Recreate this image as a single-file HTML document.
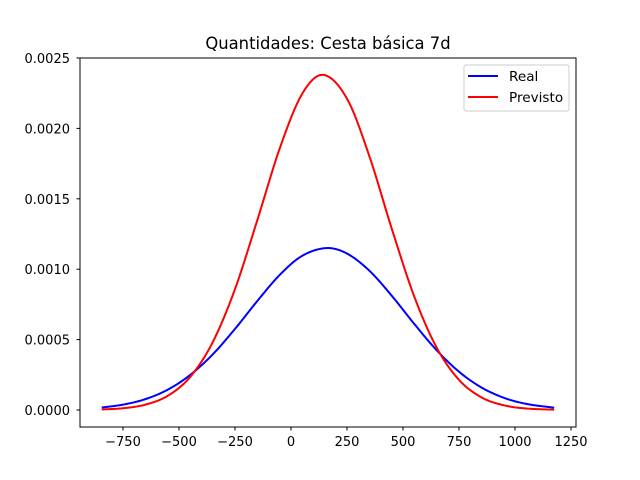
<!DOCTYPE html>
<html><head><meta charset="utf-8"><style>
body{margin:0;background:#fff}
svg{display:block;font-family:"DejaVu Sans","Liberation Sans",sans-serif}
</style></head><body>
<svg id="chart" width="640" height="480">
<text x="328" y="49" text-anchor="middle" font-size="16.4">Quantidades: Cesta básica 7d</text>
<g id="xt"></g><g id="yt"></g><g id="lines"></g>
<rect x="80" y="58" width="496" height="369" fill="none" stroke="#000" stroke-width="1"/>
<g>
<rect x="464" y="65" width="105" height="46" rx="2" fill="#fff" fill-opacity="0.8" stroke="#ccc" stroke-width="1"/>
<line x1="468" y1="76" x2="498" y2="76" stroke="#0000ff" stroke-width="2"/>
<text x="509" y="81" font-size="13.6">Real</text>
<line x1="468" y1="97" x2="498" y2="97" stroke="#ff0000" stroke-width="2"/>
<text x="509" y="102" font-size="13.6">Previsto</text>
</g>
</svg>
<script>
const xTicks=[-750,-500,-250,0,250,500,750,1000,1250];
const yTicks=[0,0.0005,0.001,0.0015,0.002,0.0025];
const yTickLabels=["0.0000","0.0005","0.0010","0.0015","0.0020","0.0025"];
const realX=[-845,-750,-650,-550,-450,-350,-250,-150,-50,50,159,250,350,450,550,650,750,850,950,1050,1175];
const realY=[0.0000179,0.000038,0.0000772,0.0001444,0.000249,0.000394,0.000576,0.000775,0.00096,0.001095,0.00115,0.001111,0.000989,0.000811,0.000612,0.000425,0.000272,0.00016,0.0000869,0.0000434,0.0000162];
const prevX=[-845,-750,-650,-550,-450,-350,-250,-150,-50,50,144,250,350,450,550,650,750,850,950,1050,1175];
const prevY=[0.0000039,0.0000125,0.000038,0.000101,0.000235,0.00048,0.000859,0.00135,0.001859,0.002246,0.00238,0.002211,0.001802,0.001287,0.000807,0.000444,0.000214,0.00009,0.0000335,0.0000109,0.0000022];
const NS="http://www.w3.org/2000/svg";
const sx=v=>291+v*0.224, sy=v=>410-v*352/0.0025;
function mk(t,a,p){const e=document.createElementNS(NS,t);for(const k in a)e.setAttribute(k,a[k]);p.appendChild(e);return e;}
const xt=document.getElementById('xt'),yt=document.getElementById('yt'),lg=document.getElementById('lines');
xTicks.forEach(v=>{const x=sx(v);
const l=mk('line',{x1:x,x2:x,y1:427,y2:430.5,stroke:'#000'},xt);


const t=mk('text',{x:x,y:446,'text-anchor':'middle','font-size':13},xt);t.textContent=(v<0?'\u2212'+(-v):v);

});
yTicks.forEach((v,i)=>{const y=sy(v);
const l=mk('line',{x1:76.5,x2:80,y1:y,y2:y,stroke:'#000'},yt);


const t=mk('text',{x:70,y:y+5,'text-anchor':'end','font-size':13},yt);t.textContent=yTickLabels[i];

});
function path(xs,ys){
  const n=xs.length,m=new Array(n);
  for(let i=0;i<n;i++){
    if(i===0)m[i]=(ys[1]-ys[0])/(xs[1]-xs[0]);
    else if(i===n-1)m[i]=(ys[n-1]-ys[n-2])/(xs[n-1]-xs[n-2]);
    else m[i]=(ys[i+1]-ys[i-1])/(xs[i+1]-xs[i-1]);
  }
  let s='M'+sx(xs[0])+','+sy(ys[0]);
  for(let i=0;i<n-1;i++){const h=xs[i+1]-xs[i];
    for(let k=1;k<=20;k++){const t=k/20,t2=t*t,t3=t2*t;
      const y=(2*t3-3*t2+1)*ys[i]+(t3-2*t2+t)*h*m[i]+(-2*t3+3*t2)*ys[i+1]+(t3-t2)*h*m[i+1];
      s+=' L'+sx(xs[i]+t*h).toFixed(2)+','+sy(y).toFixed(2);}}
  return s;}
const r=mk('path',{d:path(realX,realY),fill:'none',stroke:'#0000ff','stroke-width':2,'stroke-linejoin':'round'},lg);


const p=mk('path',{d:path(prevX,prevY),fill:'none',stroke:'#ff0000','stroke-width':2,'stroke-linejoin':'round'},lg);


</script>
</body></html>
